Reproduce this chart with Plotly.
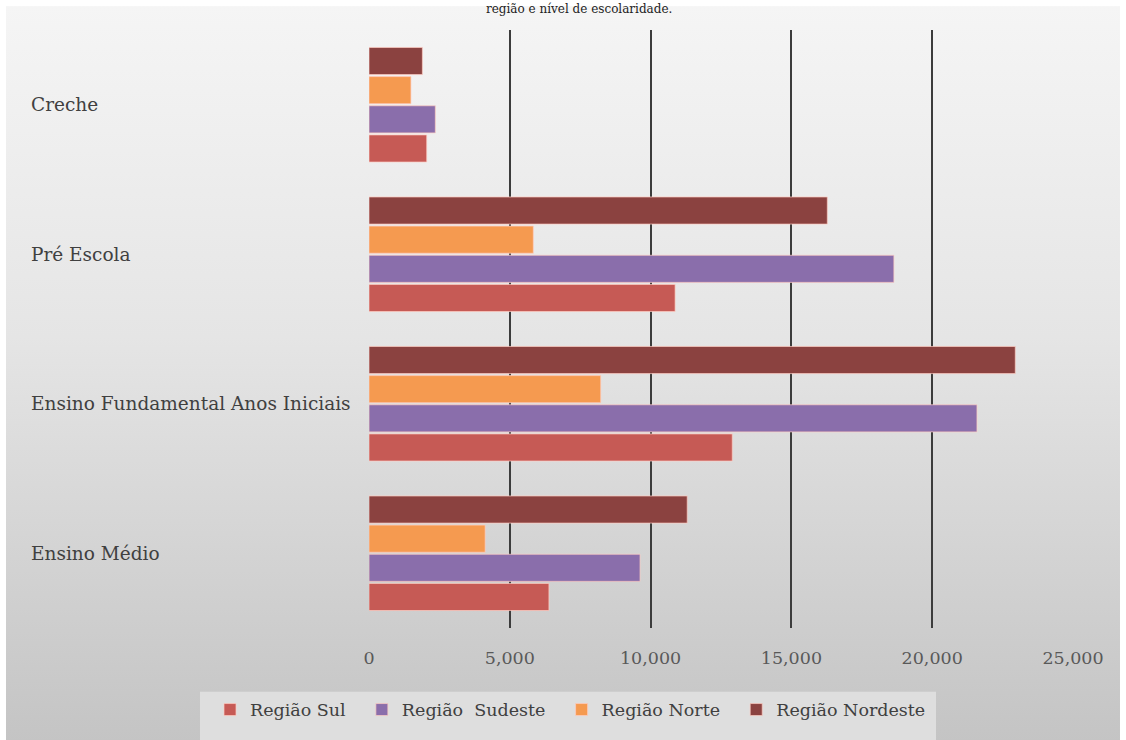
import base64
import plotly.graph_objects as go

# ---- data ----
categories = ["Ensino Médio", "Ensino Fundamental Anos Iniciais", "Pré Escola", "Creche"]
series_names = ["Região Sul", "Região\u00a0\u00a0Sudeste", "Região Norte", "Região Nordeste"]
sul = [6390, 12900, 10870, 2050]
sudeste = [9625, 21590, 18640, 2355]
norte = [4125, 8230, 5835, 1490]
nordeste = [11300, 22950, 16275, 1895]
x_ticks = [0, 5000, 10000, 15000, 20000, 25000]
title_text = "região e nível de escolaridade."

colors = ["#c65a55", "#8a6eab", "#f59a50", "#8b4240"]
series_values = [sul, sudeste, norte, nordeste]

# ---- layout geometry (pixels) ----
W, H = 1126, 740
L, R, T, B = 369, 53, 30, 109
PW, PH = W - L - R, H - T - B


def px_x(p):
    return (p - L) / PW


def px_y(p):
    return (H - B - p) / PH


FONT = "DejaVu Serif"
PAD = "\u00a0\u00a0"  # extra spacing after legend entries (invisible)

fig = go.Figure()
for i, (name, vals, col) in enumerate(zip(series_names, series_values, colors)):
    label = name + (PAD if i < len(series_names) - 1 else "")
    fig.add_trace(go.Bar(
        y=categories, x=vals, name=label, orientation="h",
        marker=dict(color=col, line=dict(color="rgba(255,205,195,0.7)", width=1)),
    ))

# gradient background panel
svg = ('<svg xmlns="http://www.w3.org/2000/svg" width="100" height="100" preserveAspectRatio="none">'
       '<defs><linearGradient id="g" x1="0" y1="0" x2="0" y2="1">'
       '<stop offset="0" stop-color="#f5f5f5"/>'
       '<stop offset="0.45" stop-color="#e5e5e5"/>'
       '<stop offset="1" stop-color="#c4c4c4"/>'
       '</linearGradient></defs>'
       '<rect width="100" height="100" fill="url(#g)"/></svg>')
src = "data:image/svg+xml;base64," + base64.b64encode(svg.encode()).decode()

x0p, x1p = px_x(6), px_x(1120)
y0p, y1p = px_y(6), px_y(745)
fig.add_layout_image(dict(
    source=src, xref="paper", yref="paper", x=x0p, y=y0p,
    sizex=x1p - x0p, sizey=y0p - y1p, xanchor="left", yanchor="top",
    sizing="stretch", layer="below",
))

# legend box
fig.add_shape(type="rect", xref="paper", yref="paper",
              x0=px_x(200), x1=px_x(936), y0=px_y(745), y1=px_y(695),
              fillcolor="#dedede", line=dict(width=0), layer="below")

# category labels (left aligned, like the original)
for c in categories:
    fig.add_annotation(x=px_x(29), xref="paper", y=c, yref="y", text=c,
                       showarrow=False, xanchor="left", yanchor="middle",
                       font=dict(family=FONT, size=18.5, color="#404040"))

# title at the very top
fig.add_annotation(x=0.5 * (px_x(420) + px_x(737)), xref="paper", y=px_y(0), yref="paper",
                   text=title_text, showarrow=False, xanchor="center", yanchor="top",
                   font=dict(family=FONT, size=12, color="#222222"))

fig.update_layout(
    width=W, height=H,
    margin=dict(l=L, r=R, t=T, b=B, pad=0),
    paper_bgcolor="white", plot_bgcolor="rgba(0,0,0,0)",
    barmode="group", bargap=0.22, bargroupgap=0.07,
    font=dict(family=FONT, size=17.5, color="#595959"),
    showlegend=True,
    legend=dict(orientation="h", x=px_x(210), y=px_y(695), xanchor="left", yanchor="top",
                bgcolor="rgba(0,0,0,0)", font=dict(family=FONT, size=17.5, color="#404040"),
                traceorder="normal", itemclick=False, itemwidth=30),
    xaxis=dict(range=[0, 25000], tickvals=x_ticks, tickformat=",", showgrid=True,
               gridcolor="#3c3c3c", gridwidth=2, zeroline=False, showline=False,
               ticks="outside", ticklen=14, tickcolor="rgba(0,0,0,0)",
               tickfont=dict(family=FONT, size=17.5, color="#595959"), fixedrange=True),
    yaxis=dict(categoryorder="array", categoryarray=categories, showticklabels=False,
               showgrid=False, zeroline=False, showline=False, fixedrange=True),
)

fig.write_html("out.html")
